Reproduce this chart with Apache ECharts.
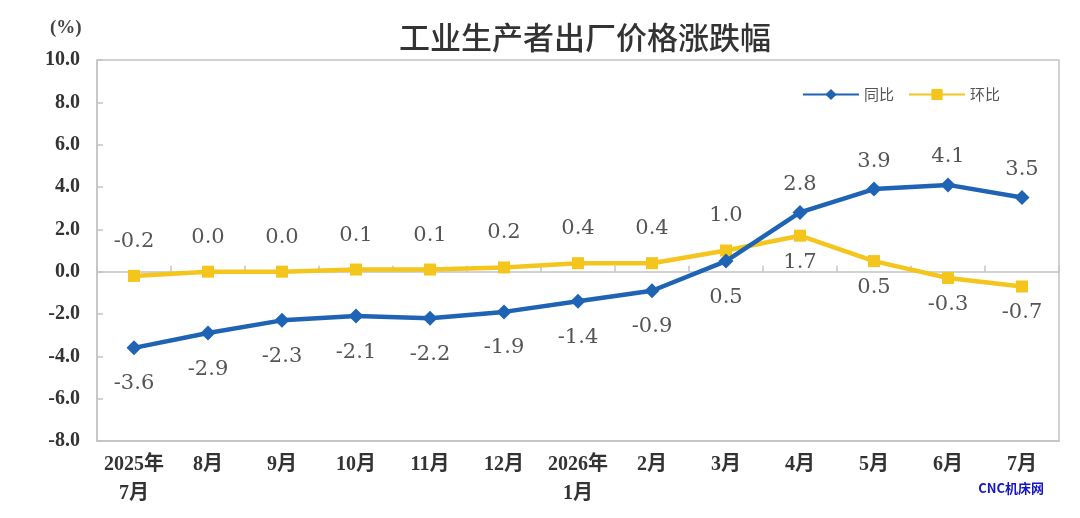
<!DOCTYPE html>
<html>
<head>
<meta charset="utf-8">
<script src="https://cdn.jsdelivr.net/npm/echarts@6/dist/echarts.min.js"></script>
<style>
  html, body { margin: 0; padding: 0; background: #fff; }
  #chart { width: 1080px; height: 518px; }
</style>
</head>
<body>
<div id="chart"></div>
<script>
// 月份（横轴）
const months = ['2025年\n7月', '8月', '9月', '10月', '11月', '12月', '2026年\n1月', '2月', '3月', '4月', '5月', '6月', '7月']
// 同比
const yoy = [-3.6, -2.9, -2.3, -2.1, -2.2, -1.9, -1.4, -0.9, 0.5, 2.8, 3.9, 4.1, 3.5]
// 环比
const mom = [-0.2, 0.0, 0.0, 0.1, 0.1, 0.2, 0.4, 0.4, 1.0, 1.7, 0.5, -0.3, -0.7]
// 纵轴刻度
const yMin = -8
const yMax = 10
const yStep = 2

// 标签在点的上方还是下方（前9个月同比在下、环比在上，之后反过来）
const flipFrom = 9

const serif = '"Liberation Serif", "DejaVu Serif", "Noto Sans CJK SC", serif'
const labelFont = '"DejaVu Serif", "Liberation Serif", serif'
const blue = '#1f63b5'
const yellow = '#f4c51c'

function labelData(values, belowFirst) {
  return values.map((v, i) => {
    const early = i < flipFrom
    const below = early ? belowFirst : !belowFirst
    return {
      value: v,
      label: { position: below ? 'bottom' : 'top', distance: early ? 18 : 10 }
    }
  })
}

const chart = echarts.init(document.getElementById('chart'))

chart.setOption({
  animation: false,
  title: {
    text: '工业生产者出厂价格涨跌幅',
    left: 580,
    textAlign: 'center',
    top: 17,
    textStyle: {
      fontFamily: '"Noto Sans CJK SC", sans-serif',
      fontSize: 31,
      fontWeight: 500,
      color: '#333'
    }
  },
  legend: {
    right: 75,
    top: 82,
    itemWidth: 56,
    itemHeight: 14,
    itemGap: 14,
    textStyle: { fontFamily: '"Noto Sans CJK SC", sans-serif', fontSize: 15, color: '#555' },
    data: ['同比', '环比']
  },
  graphic: [
    {
      type: 'text',
      left: 50,
      top: 19,
      style: { text: '(%)', font: 'bold 19px ' + serif, fill: '#444' }
    },
    {
      type: 'text',
      right: 36,
      top: 482,
      style: { text: 'CNC机床网', font: 'bold 13px "Noto Sans CJK SC", sans-serif', fill: '#1414c8' }
    }
  ],
  grid: {
    left: 97,
    right: 21,
    top: 60,
    bottom: 77,
    show: true,
    borderColor: '#c4c4c4',
    borderWidth: 1.5
  },
  xAxis: [
    {
      type: 'category',
      data: months,
      boundaryGap: true,
      position: 'bottom',
      axisLine: { onZero: false, lineStyle: { color: '#c4c4c4', width: 1.5 } },
      axisTick: { show: false },
      axisLabel: {
        interval: 0,
        margin: 9,
        lineHeight: 29,
        fontFamily: serif,
        fontWeight: 'bold',
        fontSize: 20,
        color: '#333'
      }
    },
    {
      type: 'category',
      data: months,
      boundaryGap: true,
      position: 'bottom',
      axisLine: { onZero: true, lineStyle: { color: '#c4c4c4', width: 1.5 } },
      axisTick: { show: true, inside: true, length: 6, lineStyle: { color: '#c4c4c4', width: 1.5 } },
      axisLabel: { show: false }
    }
  ],
  yAxis: {
    type: 'value',
    min: yMin,
    max: yMax,
    interval: yStep,
    axisLine: { show: true, lineStyle: { color: '#c4c4c4', width: 1.5 } },
    axisTick: { show: true, inside: true, length: 6, lineStyle: { color: '#c4c4c4', width: 1.5 } },
    splitLine: { show: false },
    axisLabel: {
      margin: 17,
      fontFamily: serif,
      fontWeight: 'bold',
      fontSize: 20,
      color: '#333',
      formatter: v => v.toFixed(1)
    }
  },
  series: [
    {
      name: '环比',
      type: 'line',
      data: labelData(mom, false),
      symbol: 'rect',
      symbolSize: 12,
      z: 2,
      lineStyle: { color: yellow, width: 4.5 },
      itemStyle: { color: yellow },
      label: {
        show: true,
        fontFamily: labelFont,
        fontSize: 21,
        color: '#555',
        formatter: p => p.value.toFixed(1)
      }
    },
    {
      name: '同比',
      type: 'line',
      data: labelData(yoy, true),
      symbol: 'diamond',
      symbolSize: 15,
      z: 3,
      lineStyle: { color: blue, width: 4.5 },
      itemStyle: { color: blue },
      label: {
        show: true,
        fontFamily: labelFont,
        fontSize: 21,
        color: '#555',
        formatter: p => p.value.toFixed(1)
      }
    }
  ]
})
</script>
</body>
</html>
